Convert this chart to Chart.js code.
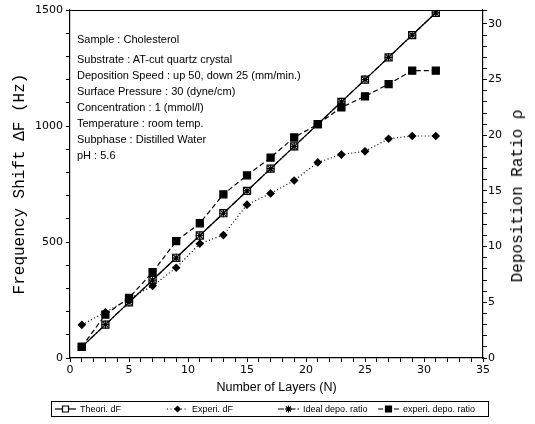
<!DOCTYPE html>
<html>
<head>
<meta charset="utf-8">
<script src="https://cdn.jsdelivr.net/npm/chart.js@4"></script>
<style>
    html, body { margin: 0; padding: 0; background: #fff; }
    #wrap { position: relative; width: 535px; height: 424px; }
    #notes {
        position: absolute; left: 77px; top: 31px;
        font: 11px "Liberation Sans", Arial, sans-serif; color: #000;
        line-height: 16px; white-space: nowrap;
    }
    #notes div:first-child { margin-bottom: 4px; }
    #rightTitle {
        position: absolute; left: 518px; top: 196px;
        transform: translate(-50%, -50%) rotate(-90deg);
        font: 16px "Liberation Mono", monospace; color: #000; white-space: nowrap;
    }
    #legend {
        position: absolute; left: 51px; top: 401px; width: 438px; height: 16px;
        border: 1px solid #000; box-sizing: border-box;
        font: 9px "Liberation Sans", Arial, sans-serif; color: #000;
    }
    .item { position: absolute; top: 2px; display: flex; align-items: center; white-space: nowrap; }
    .item canvas { margin-right: 4px; }
</style>
</head>
<body>
<div id="wrap">
    <canvas id="chart" width="535" height="424"></canvas>
    <div id="notes"></div>
    <div id="rightTitle">Deposition Ratio &rho;</div>
    <div id="legend"></div>
</div>
<script>
// Values
const layers = [1, 3, 5, 7, 9, 11, 13, 15, 17, 19, 21, 23, 25, 27, 29, 31];
const theoriDF = [48, 144, 240, 336, 432, 528, 624, 720, 816, 912, 1008, 1104, 1200, 1296, 1392, 1488];
const experiDF = [143, 197, 255, 311, 389, 493, 530, 661, 709, 765, 843, 877, 891, 945, 957, 957];
const idealRatio = [1, 3, 5, 7, 9, 11, 13, 15, 17, 19, 21, 23, 25, 27, 29, 31];
const experiRatio = [1.0, 3.9, 5.4, 7.7, 10.5, 12.1, 14.7, 16.4, 18.0, 19.8, 21.0, 22.5, 23.5, 24.6, 25.8, 25.8];

// Tick labels
const xLabels = [0, 5, 10, 15, 20, 25, 30, 35];
const dfLabels = [0, 500, 1000, 1500];
const ratioLabels = [0, 5, 10, 15, 20, 25, 30];

const seriesNames = ['Theori. dF', 'Experi. dF', 'Ideal depo. ratio', 'experi. depo. ratio'];

const notes = [
    'Sample : Cholesterol',
    'Substrate : AT-cut quartz crystal',
    'Deposition Speed : up 50, down 25 (mm/min.)',
    'Surface Pressure : 30 (dyne/cm)',
    'Concentration : 1 (mmol/l)',
    'Temperature : room temp.',
    'Subphase : Distilled Water',
    'pH : 5.6'
];

const tickFont = { family: '"DejaVu Sans", sans-serif', size: 11 };

// Build the notes block
const notesElement = document.getElementById('notes');
notes.forEach(line => {
    const div = document.createElement('div');
    div.textContent = line;
    notesElement.appendChild(div);
});

function points(ys) {
    return layers.map((n, i) => ({ x: n, y: ys[i] }));
}

// line / marker styles for each series
const styles = [
    { dash: [], shape: 'rect', fill: '#fff', radius: 5 },
    { dash: [1, 2.5], shape: 'rectRot', fill: '#000', radius: 3.5 },
    { dash: [6, 2, 1.5, 2], shape: 'star', fill: '#000', radius: 4 },
    { dash: [5, 3], shape: 'rect', fill: '#000', radius: 5 }
];

const datasets = [
    { data: points(theoriDF), yAxisID: 'y' },
    { data: points(experiDF), yAxisID: 'y' },
    { data: points(idealRatio), yAxisID: 'y1' },
    { data: points(experiRatio), yAxisID: 'y1' }
].map((ds, i) => Object.assign(ds, {
    label: seriesNames[i],
    order: 3 - i, // later series drawn on top
    borderColor: '#000',
    borderWidth: 1.2,
    borderDash: styles[i].dash,
    pointStyle: styles[i].shape,
    pointRadius: styles[i].radius,
    pointBackgroundColor: styles[i].fill,
    pointBorderColor: '#000',
    pointBorderWidth: 1.2,
    tension: 0,
    fill: false
}));

// Draw the top edge of the frame
const framePlugin = {
    id: 'frame',
    afterDraw(chart) {
        const { ctx, chartArea } = chart;
        ctx.save();
        ctx.strokeStyle = '#000';
        ctx.lineWidth = 1;
        ctx.beginPath();
        ctx.moveTo(chartArea.left, chartArea.top + 0.5);
        ctx.lineTo(chartArea.right, chartArea.top + 0.5);
        ctx.stroke();
        ctx.restore();
    }
};

const axisGrid = { drawOnChartArea: false, color: '#000', tickColor: '#000', tickLength: 4, tickWidth: 1 };
const axisBorder = { display: true, color: '#000', width: 1.2 };

new Chart(document.getElementById('chart'), {
    type: 'line',
    data: { datasets: datasets },
    options: {
        responsive: false,
        animation: false,
        layout: { padding: { top: 10, bottom: 26, left: 0, right: 0 } },
        plugins: { legend: { display: false }, tooltip: { enabled: false } },
        scales: {
            x: {
                type: 'linear', min: 0, max: 35,
                ticks: {
                    stepSize: 1, autoSkip: false, maxRotation: 0, padding: 2,
                    color: '#000', font: tickFont,
                    callback: v => xLabels.includes(v) ? v : ''
                },
                grid: axisGrid,
                border: axisBorder,
                title: {
                    display: true, text: 'Number of Layers (N)', color: '#000',
                    font: { family: '"Liberation Sans", Arial, sans-serif', size: 12.5 },
                    padding: { top: 0, bottom: 2.5 }
                },
                afterFit: scale => { scale.height = 40; }
            },
            y: {
                type: 'linear', position: 'left', min: 0, max: 1500,
                ticks: {
                    stepSize: 100, autoSkip: false, padding: 3,
                    color: '#000', font: tickFont,
                    callback: v => dfLabels.includes(v) ? v : ''
                },
                grid: axisGrid,
                border: axisBorder,
                title: {
                    display: true, text: 'Frequency Shift \u0394F (Hz)', color: '#000',
                    font: { family: '"Liberation Mono", monospace', size: 16 },
                    padding: { top: 10.4, bottom: 0 }
                },
                afterFit: scale => { scale.width = 70; }
            },
            y1: {
                type: 'linear', position: 'right', min: 0, max: 31.25,
                ticks: {
                    stepSize: 1, autoSkip: false, padding: 1,
                    color: '#000', font: tickFont,
                    callback: v => ratioLabels.includes(v) ? v : ''
                },
                grid: axisGrid,
                border: axisBorder,
                afterFit: scale => { scale.width = 52; }
            }
        }
    },
    plugins: [framePlugin]
});

// Legend row with line + marker samples
function drawMarker(canvas, style) {
    const c = canvas.getContext('2d');
    const w = canvas.width, h = canvas.height, cx = w / 2, cy = h / 2;
    c.strokeStyle = '#000';
    c.fillStyle = style.fill;
    c.lineWidth = 1.2;
    c.setLineDash(style.dash);
    c.beginPath();
    c.moveTo(0, cy);
    c.lineTo(w, cy);
    c.stroke();
    c.setLineDash([]);
    c.beginPath();
    if (style.shape === 'rect') {
        c.rect(cx - 3, cy - 3, 6, 6);
        c.fill();
        c.stroke();
    } else if (style.shape === 'rectRot') {
        c.moveTo(cx, cy - 3.5);
        c.lineTo(cx + 3.5, cy);
        c.lineTo(cx, cy + 3.5);
        c.lineTo(cx - 3.5, cy);
        c.closePath();
        c.fill();
    } else {
        for (let a = 0; a < 4; a++) {
            const ang = a * Math.PI / 4;
            c.moveTo(cx - 3.5 * Math.cos(ang), cy - 3.5 * Math.sin(ang));
            c.lineTo(cx + 3.5 * Math.cos(ang), cy + 3.5 * Math.sin(ang));
        }
        c.stroke();
    }
}

const legendElement = document.getElementById('legend');
const legendOffsets = [3, 115, 226, 326];
seriesNames.forEach((name, i) => {
    const item = document.createElement('div');
    item.className = 'item';
    item.style.left = legendOffsets[i] + 'px';
    const cv = document.createElement('canvas');
    cv.width = 21;
    cv.height = 10;
    drawMarker(cv, styles[i]);
    const span = document.createElement('span');
    span.textContent = name;
    item.appendChild(cv);
    item.appendChild(span);
    legendElement.appendChild(item);
});
</script>
</body>
</html>
